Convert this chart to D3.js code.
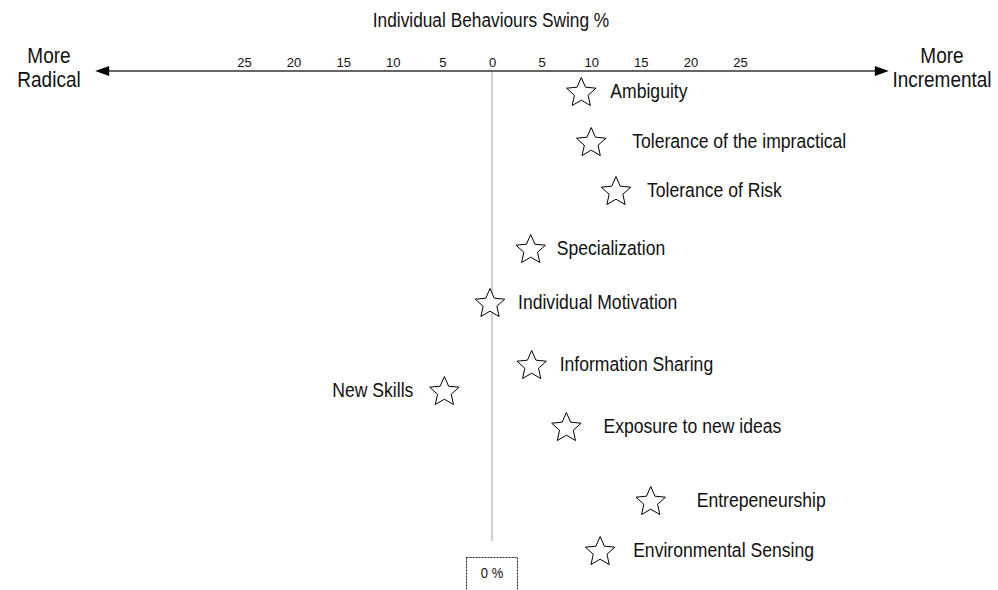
<!DOCTYPE html>
<html>
<head>
<meta charset="utf-8">
<script src="https://cdn.jsdelivr.net/npm/d3@7"></script>
<style>
  html, body { margin: 0; padding: 0; background: #fff; }
  svg { display: block; font-family: "Liberation Sans", Arial, sans-serif; }
</style>
</head>
<body>
<svg id="chart" width="998" height="590"></svg>
<script>
// ---- data ----
const behaviours = ["Ambiguity", "Tolerance of the impractical", "Tolerance of Risk", "Specialization",
  "Individual Motivation", "Information Sharing", "New Skills", "Exposure to new ideas",
  "Entrepeneurship", "Environmental Sensing"];
const swing = [9.0, 10.0, 12.5, 3.9, -0.2, 4.0, -4.8, 7.5, 16.0, 10.9];
const rowPosition = [1.0, 2.0, 2.98, 4.14, 5.22, 6.46, 6.98, 7.7, 9.18, 10.18];
const tickValues = [-25, -20, -15, -10, -5, 0, 5, 10, 15, 20, 25];
const title = "Individual Behaviours Swing %";
const leftLabel = ["More", "Radical"];
const rightLabel = ["More", "Incremental"];
const zeroLabel = "0 %";

// ---- layout (not data) ----
const labelGap = [29, 41, 31, 26, 28, 28, -31, 37, 46, 33];
const SY = 1.12; // slight vertical stretch of the reference's text

const svg = d3.select("#chart");
const x = d3.scaleLinear().domain([-25, 25]).range([244, 740]);
const y = d3.scaleLinear().domain([0, 10]).range([43, 543]);
const axisY = 71;

function stretchedText(parent, tx, ty, str, size, anchor) {
  return parent.append("text")
    .attr("transform", `translate(${tx},${ty}) scale(1,${SY})`)
    .attr("text-anchor", anchor || "start")
    .attr("font-size", size).attr("fill", "#111").text(str);
}

// title
stretchedText(svg, 491, 27, title, 17.3, "middle");

// zero line
svg.append("line").attr("x1", x(0)).attr("x2", x(0)).attr("y1", axisY).attr("y2", 541)
  .attr("stroke", "#a0a0a0").attr("stroke-width", 1);

// arrow axis line
const xL = x(-40), xR = x(40);
svg.append("line").attr("x1", xL + 10).attr("x2", xR - 10).attr("y1", axisY).attr("y2", axisY)
  .attr("stroke", "#333").attr("stroke-width", 1.3);
svg.append("path").attr("d", `M${xL},${axisY} L${xL + 14},${axisY - 5} L${xL + 14},${axisY + 5} Z`).attr("fill", "#000");
svg.append("path").attr("d", `M${xR},${axisY} L${xR - 14},${axisY - 5} L${xR - 14},${axisY + 5} Z`).attr("fill", "#000");

// tick labels via d3 axis
const axisG = svg.append("g").attr("transform", `translate(0,${axisY})`)
  .call(d3.axisTop(x).tickValues(tickValues).tickSize(0).tickPadding(4).tickFormat(d => Math.abs(d)));
axisG.select(".domain").remove();
axisG.selectAll("text").attr("font-size", 13).attr("font-family", '"Liberation Sans", Arial, sans-serif')
  .attr("fill", "#111");

// end labels
function endLabel(lines, cx) {
  stretchedText(svg, cx, 63, lines[0], 19, "middle");
  stretchedText(svg, cx, 87, lines[1], 19, "middle");
}
endLabel(leftLabel, 49);
endLabel(rightLabel, 942);

// star path
const R = 15.5, rIn = 7.2;
const starPts = d3.range(10).map(i => {
  const a = -Math.PI / 2 + i * Math.PI / 5;
  const rr = i % 2 === 0 ? R : rIn;
  return [rr * Math.cos(a), rr * Math.sin(a)];
});
const starPath = d3.line()(starPts) + "Z";

const data = behaviours.map((name, i) => ({ name, v: swing[i], row: rowPosition[i], gap: labelGap[i] }));

const items = svg.append("g").selectAll("g.item").data(data).join("g").attr("class", "item")
  .attr("transform", d => `translate(${x(d.v)},${y(d.row)})`);
items.append("path").attr("d", starPath).attr("fill", "#fff").attr("stroke", "#000").attr("stroke-width", 1);
items.each(function (d) {
  stretchedText(d3.select(this), d.gap, 4.5, d.name, 17.6, d.gap < 0 ? "end" : "start");
});

// zero box
svg.append("rect").attr("x", x(0) - 25.5).attr("y", 557.5).attr("width", 51).attr("height", 40)
  .attr("fill", "none").attr("stroke", "#222").attr("stroke-width", 1).attr("stroke-dasharray", "2,1");
stretchedText(svg, x(0), 578, zeroLabel, 13, "middle");
</script>
</body>
</html>
